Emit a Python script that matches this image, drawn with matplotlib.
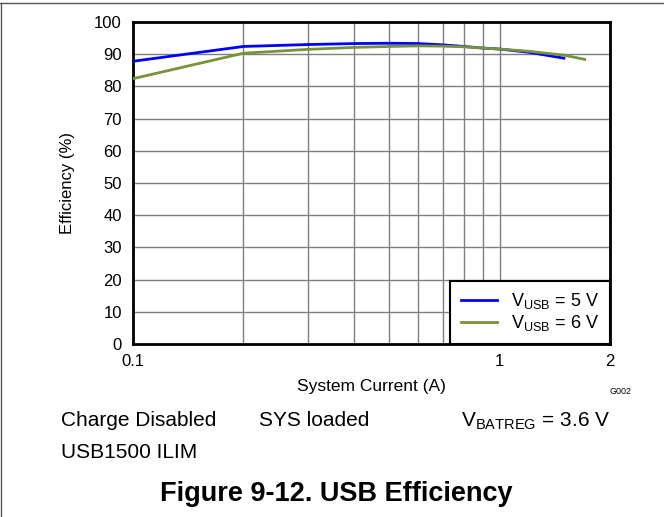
import matplotlib
matplotlib.use("Agg")
import matplotlib.pyplot as plt
from matplotlib.lines import Line2D

plt.rcParams['font.family'] = ['Liberation Sans', 'DejaVu Sans']

# Data
current_5v = [0.1, 0.2, 0.3, 0.4, 0.5, 0.6, 0.7, 0.8, 0.9, 1.0, 1.2, 1.51]
eff_5v = [87.8, 92.4, 93.0, 93.3, 93.4, 93.3, 92.9, 92.4, 91.9, 91.6, 90.6, 88.7]
current_6v = [0.1, 0.2, 0.3, 0.4, 0.5, 0.6, 0.7, 0.8, 0.9, 1.0, 1.2, 1.5, 1.72]
eff_6v = [82.4, 90.3, 91.5, 92.1, 92.4, 92.6, 92.5, 92.3, 91.9, 91.6, 90.9, 89.7, 88.3]

x_grid = [0.2, 0.3, 0.4, 0.5, 0.6, 0.7, 0.8, 0.9, 1.0]
x_ticks = [0.1, 1, 2]
x_ticklabels = ['0.1', '1', '2']
y_ticks = [0, 10, 20, 30, 40, 50, 60, 70, 80, 90, 100]

W, H = 664, 517
fig = plt.figure(figsize=(W / 100, H / 100), dpi=100)
ax = fig.add_axes([133 / W, 1 - 344 / H, (610 - 133) / W, (344 - 22) / H])

ax.set_xscale('log')
ax.set_xlim(0.1, 2)
ax.set_ylim(0, 100)

for xv in x_grid:
    ax.axvline(xv, color='#7f7f7f', lw=1.0, zorder=1)
for yv in y_ticks[1:-1]:
    ax.axhline(yv, color='#7f7f7f', lw=1.0, zorder=1)

ax.plot(current_5v, eff_5v, color='#0000ff', lw=2.0, zorder=3, solid_capstyle='butt')
ax.plot(current_6v, eff_6v, color='#77933c', lw=2.0, zorder=4, solid_capstyle='butt')

ax.set_xticks(x_ticks)
ax.set_xticklabels(x_ticklabels)
ax.xaxis.set_minor_locator(matplotlib.ticker.NullLocator())
ax.set_yticks(y_ticks)
ax.tick_params(axis='both', length=0, labelsize=12, colors='black')
ax.tick_params(axis='x', pad=7)
ax.tick_params(axis='y', pad=8)
for s in ax.spines.values():
    s.set_linewidth(2.0)
    s.set_color('black')

ax.set_xlabel('System Current (A)', fontsize=12.5, labelpad=7.5)
ax.set_ylabel('Efficiency (%)', fontsize=12, labelpad=14)

handles = [Line2D([], [], color='#0000ff', lw=2.0),
           Line2D([], [], color='#77933c', lw=2.0)]
leg = ax.legend(handles, [r'V$_{\mathregular{USB}}$ = 5 V', r'V$_{\mathregular{USB}}$ = 6 V'],
                loc='lower right', fontsize=13, frameon=True, fancybox=False,
                edgecolor='black', framealpha=1, borderaxespad=0,
                handlelength=2.0, handletextpad=0.8, labelspacing=0.1,
                borderpad=0.6)
leg.get_frame().set_linewidth(1.5)
leg.set_zorder(5)

fig.text(620 / W, 1 - 392 / H, 'G002', fontsize=6.5, ha='center', va='center')
fig.text(61 / W, 1 - 421 / H, 'Charge Disabled', fontsize=15, ha='left', va='center')
fig.text(259 / W, 1 - 421 / H, 'SYS loaded', fontsize=15, ha='left', va='center')
fig.text(461 / W, 1 - 421 / H, r'V$_{\mathregular{BATREG}}$ = 3.6 V', fontsize=15, ha='left', va='center')
fig.text(61 / W, 1 - 453 / H, 'USB1500 ILIM', fontsize=15, ha='left', va='center')
fig.text(336 / W, 1 - 494 / H, 'Figure 9-12. USB Efficiency', fontsize=19.5, fontweight='bold',
         ha='center', va='center')

# outer frame lines (top and left)
fig.add_artist(Line2D([0, 1], [1 - 3 / H, 1 - 3 / H], transform=fig.transFigure, color='#555555', lw=1.0))
fig.add_artist(Line2D([1 / W, 1 / W], [0, 1 - 3 / H], transform=fig.transFigure, color='#555555', lw=1.0))

fig.savefig('out.png', dpi=100)
